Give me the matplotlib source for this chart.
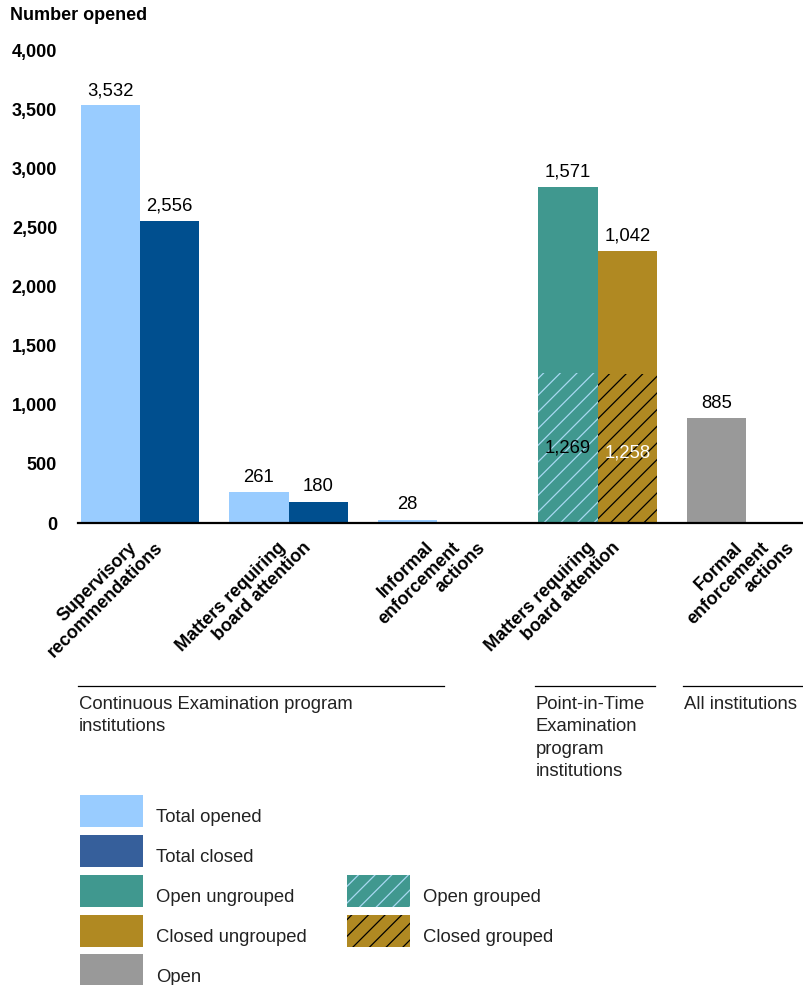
import numpy as np
import matplotlib.pyplot as plt
from matplotlib.patches import Rectangle
from matplotlib.transforms import offset_copy

plt.rcParams['font.family'] = ['Liberation Sans', 'DejaVu Sans']
plt.rcParams['hatch.linewidth'] = 0.9

# ---- data ----
categories = [['Supervisory', 'recommendations'],
              ['Matters requiring', 'board attention'],
              ['Informal', 'enforcement', 'actions'],
              ['Matters requiring', 'board attention'],
              ['Formal', 'enforcement', 'actions']]
ce_opened = [3532, 261, 28]
ce_closed = [2556, 180, None]
pit_open_grouped = 1269
pit_open_ungrouped = 1571
pit_closed_grouped = 1258
pit_closed_ungrouped = 1042
formal_open = 885
yticks = np.arange(0, 4001, 500)

# ---- colours ----
c_light = '#99CCFF'
c_dark = '#004F8F'
c_dark_leg = '#365F9B'
c_teal = '#40988F'
c_gold = '#B08922'
c_grey = '#999999'
c_teal_hatch = '#A8D8F2'

# ---- layout ----
W, H = 804, 985
fig = plt.figure(figsize=(W / 100, H / 100), dpi=100)
ax = fig.add_axes([78 / W, 1 - 523 / H, (W - 78) / W, (523 - 50) / H])

pos = [0, 1, 2, 3.08, 4.08]
bw = 0.4
fs = 13.3


def label(x, y, txt, color='black', va='bottom', off=4.5):
    ax.annotate(txt, (x, y), xytext=(0, off), textcoords='offset points',
                ha='center', va=va, fontsize=fs, color=color)


# continuous examination groups
for i in range(3):
    ax.bar(pos[i] - bw / 2, ce_opened[i], bw, color=c_light, linewidth=0)
    label(pos[i] - bw / 2, ce_opened[i], f'{ce_opened[i]:,}')
    if ce_closed[i] is not None:
        ax.bar(pos[i] + bw / 2, ce_closed[i], bw, color=c_dark, linewidth=0)
        label(pos[i] + bw / 2, ce_closed[i], f'{ce_closed[i]:,}')

# point-in-time group (stacked: grouped at bottom, ungrouped on top)
xo, xc = pos[3] - bw / 2, pos[3] + bw / 2
ax.bar(xo, pit_open_grouped, bw, color=c_teal, edgecolor=c_teal_hatch,
       hatch='//', linewidth=0)
ax.bar(xo, pit_open_ungrouped, bw, bottom=pit_open_grouped, color=c_teal,
       linewidth=0)
ax.bar(xc, pit_closed_grouped, bw, color=c_gold, edgecolor='black',
       hatch='//', linewidth=0)
ax.bar(xc, pit_closed_ungrouped, bw, bottom=pit_closed_grouped, color=c_gold,
       linewidth=0)
label(xo, pit_open_grouped + pit_open_ungrouped, f'{pit_open_ungrouped:,}')
label(xc, pit_closed_grouped + pit_closed_ungrouped, f'{pit_closed_ungrouped:,}')
label(xo, pit_open_grouped / 2, f'{pit_open_grouped:,}', va='center', off=0)
label(xc, pit_closed_grouped / 2, f'{pit_closed_grouped:,}', color='white',
      va='center', off=-3)

# all institutions
ax.bar(pos[4] - bw / 2, formal_open, bw, color=c_grey, linewidth=0)
label(pos[4] - bw / 2, formal_open, f'{formal_open:,}')

ax.set_xlim(-0.4175, 4.47)
ax.set_ylim(0, 4000)
ax.set_yticks(yticks, [f'{v:,}' for v in yticks], fontsize=13,
              fontweight='bold')
ax.tick_params(axis='y', length=0, pad=15)
ax.set_xticks([])
for s in ['top', 'right', 'left']:
    ax.spines[s].set_visible(False)
ax.spines['bottom'].set_linewidth(1.6)

# category labels: each line rotated, right ends on one horizontal row
for p, lines in zip(pos, categories):
    for k, line in enumerate(lines):
        tr = offset_copy(ax.transData, fig, x=-6 + 26 * k, y=-22,
                         units='dots')
        ax.text(p, 0, line, transform=tr, rotation=45,
                rotation_mode='anchor', ha='right', va='center',
                fontsize=13, fontweight='bold', clip_on=False)

fig.text(10 / W, 1 - 16 / H, 'Number opened', fontsize=13,
         fontweight='bold', va='center', ha='left')

# ---- overlay: group brackets and legend ----
ov = fig.add_axes([0, 0, 1, 1], zorder=-1)
ov.set_xlim(0, W)
ov.set_ylim(H, 0)
ov.axis('off')

groups = [(78, 444, 'Continuous Examination program\ninstitutions'),
          (535, 655, 'Point-in-Time\nExamination\nprogram\ninstitutions'),
          (683, 804, 'All institutions')]
for x0, x1, txt in groups:
    ov.plot([x0, x1], [686, 686], color='black', linewidth=0.9)
    ov.text(x0 + 1, 696, txt, fontsize=fs, va='top', ha='left',
            linespacing=1.42, color='#222222')

legend_items = [
    (80, 795, c_light, None, None, 'Total opened'),
    (80, 835, c_dark_leg, None, None, 'Total closed'),
    (80, 875, c_teal, None, None, 'Open ungrouped'),
    (80, 915, c_gold, None, None, 'Closed ungrouped'),
    (80, 954, c_grey, None, None, 'Open'),
    (347, 875, c_teal, c_teal_hatch, '//', 'Open grouped'),
    (347, 915, c_gold, 'black', '//', 'Closed grouped'),
]
for x, y, fc, ec, hatch, txt in legend_items:
    ov.add_patch(Rectangle((x, y), 63, 32, facecolor=fc,
                           edgecolor=ec if ec else fc, hatch=hatch,
                           linewidth=0))
    ov.text(x + 76, y + 23, txt, fontsize=fs, va='center', ha='left',
            color='#222222')

fig.savefig('out.png', dpi=100)
